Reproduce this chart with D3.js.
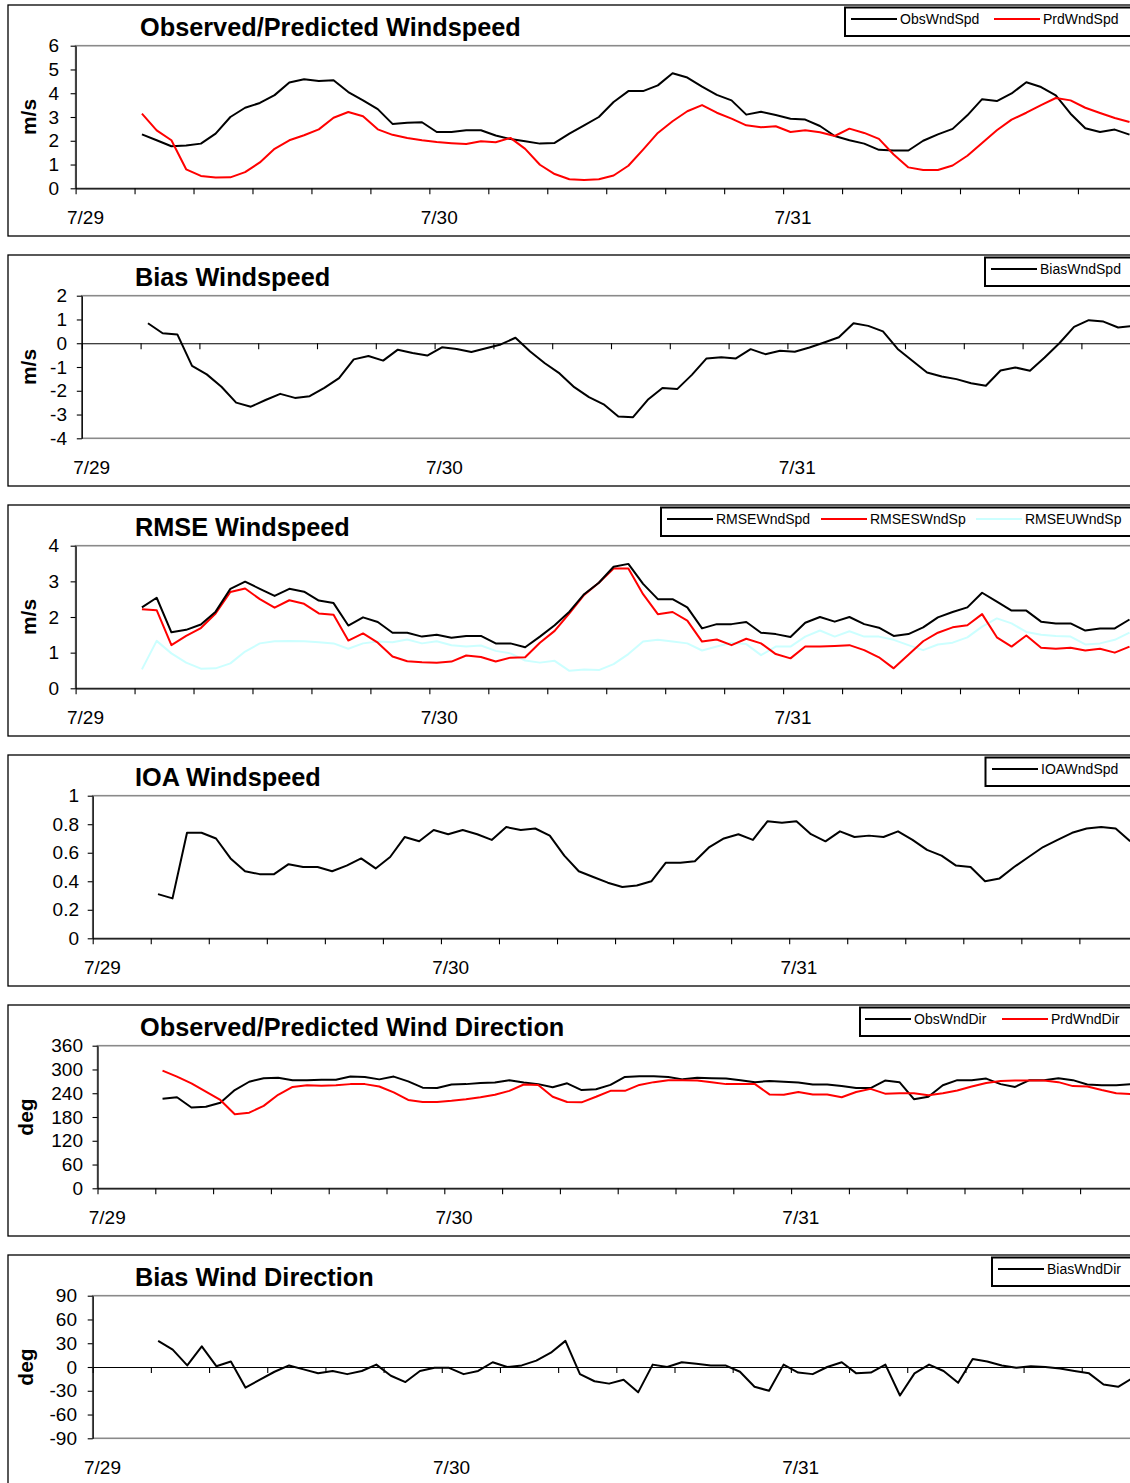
<!DOCTYPE html>
<html><head><meta charset="utf-8">
<script src="https://cdn.jsdelivr.net/npm/d3@7"></script>
<style>
body{margin:0;background:#fff}
svg text{font-family:"Liberation Sans",Arial,Helvetica,sans-serif;fill:#000}
</style>
</head><body>
<svg id="c" width="1130" height="1483"></svg>
<script>
// ---------------- data (hourly categories, first value is hour index 4) ----------------
const START = 4;
const dayLabels = ["7/29","7/30","7/31"];

const obsWndSpd = [2.27,2.02,1.77,1.80,1.88,2.30,3.00,3.39,3.59,3.92,
  4.45,4.59,4.51,4.55,4.05,3.70,3.33,2.71,2.76,2.78,
  2.37,2.37,2.44,2.44,2.22,2.07,1.98,1.88,1.91,2.30,
  2.65,3.00,3.63,4.09,4.09,4.33,4.84,4.66,4.28,3.93,
  3.70,3.10,3.22,3.08,2.93,2.89,2.62,2.20,2.02,1.88,
  1.62,1.59,1.59,2.00,2.27,2.50,3.07,3.75,3.67,3.99,
  4.46,4.26,3.91,3.14,2.53,2.37,2.47,2.26];
const prdWndSpd = [3.14,2.44,2.02,0.80,0.52,0.45,0.46,0.68,1.09,1.66,
  2.02,2.23,2.48,2.97,3.21,3.03,2.48,2.25,2.12,2.02,
  1.95,1.90,1.86,1.98,1.94,2.12,1.66,0.99,0.60,0.38,
  0.35,0.38,0.54,0.95,1.63,2.33,2.82,3.24,3.50,3.18,
  2.93,2.65,2.57,2.61,2.37,2.44,2.36,2.20,2.51,2.33,
  2.08,1.42,0.88,0.77,0.77,0.96,1.37,1.91,2.44,2.89,
  3.18,3.50,3.80,3.70,3.39,3.17,2.96,2.79];
const biasWndSpd = [0.84,0.42,0.37,-0.95,-1.31,-1.83,-2.50,-2.67,-2.39,-2.13,
  -2.30,-2.23,-1.88,-1.47,-0.68,-0.54,-0.73,-0.27,-0.41,-0.52,
  -0.17,-0.24,-0.37,-0.21,-0.05,0.23,-0.35,-0.84,-1.27,-1.85,
  -2.27,-2.57,-3.08,-3.11,-2.38,-1.88,-1.93,-1.33,-0.64,-0.59,
  -0.64,-0.25,-0.46,-0.32,-0.36,-0.18,0.03,0.25,0.84,0.73,
  0.50,-0.24,-0.74,-1.23,-1.40,-1.51,-1.68,-1.79,-1.15,-1.02,
  -1.16,-0.60,0.00,0.69,0.97,0.91,0.66,0.73];
const rmseWndSpd = [2.27,2.54,1.57,1.64,1.79,2.15,2.79,2.99,2.79,2.59,
  2.79,2.71,2.46,2.39,1.76,1.99,1.86,1.56,1.56,1.45,
  1.50,1.42,1.47,1.47,1.26,1.26,1.15,1.45,1.77,2.15,
  2.64,2.96,3.41,3.49,2.93,2.50,2.50,2.27,1.68,1.80,
  1.80,1.86,1.56,1.52,1.44,1.84,2.00,1.87,2.00,1.80,
  1.70,1.47,1.52,1.71,1.99,2.14,2.27,2.68,2.43,2.18,
  2.18,1.87,1.82,1.82,1.62,1.68,1.68,1.93];
const rmseSWndSp = [2.22,2.19,1.21,1.47,1.69,2.10,2.70,2.80,2.50,2.26,
  2.47,2.37,2.10,2.06,1.34,1.54,1.28,0.89,0.76,0.73,
  0.72,0.75,0.92,0.88,0.75,0.86,0.87,1.28,1.61,2.10,
  2.62,2.96,3.36,3.36,2.64,2.08,2.14,1.90,1.31,1.37,
  1.21,1.39,1.26,0.96,0.84,1.17,1.17,1.19,1.21,1.07,
  0.87,0.56,0.94,1.32,1.56,1.71,1.77,2.08,1.43,1.17,
  1.48,1.14,1.11,1.14,1.06,1.11,1.00,1.17];
const rmseUWndSp = [0.53,1.33,0.98,0.72,0.55,0.56,0.70,1.03,1.26,1.32,
  1.33,1.32,1.29,1.26,1.11,1.26,1.31,1.29,1.37,1.26,
  1.32,1.21,1.17,1.20,1.05,0.98,0.78,0.72,0.77,0.49,
  0.53,0.51,0.68,0.96,1.31,1.36,1.31,1.26,1.06,1.17,
  1.28,1.24,0.93,1.17,1.17,1.45,1.62,1.45,1.60,1.45,
  1.45,1.36,1.21,1.07,1.23,1.28,1.43,1.73,1.96,1.82,
  1.58,1.50,1.47,1.45,1.23,1.26,1.36,1.56];
const ioaWndSpd = [0.31,0.28,0.74,0.74,0.70,0.56,0.47,0.45,0.45,0.52,
  0.50,0.50,0.47,0.51,0.56,0.49,0.57,0.71,0.68,0.76,
  0.73,0.76,0.73,0.69,0.78,0.76,0.77,0.72,0.58,0.47,
  0.43,0.39,0.36,0.37,0.40,0.53,0.53,0.54,0.64,0.70,
  0.73,0.69,0.82,0.81,0.82,0.73,0.68,0.75,0.71,0.72,
  0.71,0.75,0.69,0.62,0.58,0.51,0.50,0.40,0.42,0.50,
  0.57,0.64,0.69,0.74,0.77,0.78,0.77,0.68];
const obsWndDir = [226,230,204,206,216,248,269,278,279,273,
  273,274,274,282,281,275,282,270,254,253,
  262,263,266,267,273,267,263,255,265,248,
  250,261,281,283,283,281,275,279,278,277,
  273,268,271,269,267,262,262,258,253,253,
  272,268,225,231,260,273,273,277,263,256,
  273,273,278,273,262,260,260,263];
const prdWndDir = [297,282,265,244,223,187,191,208,236,256,
  260,259,260,263,263,257,242,223,218,218,
  221,225,230,236,246,262,261,231,218,217,
  231,246,246,261,268,273,273,272,268,263,
  263,263,237,236,243,237,237,230,243,251,
  239,240,240,235,240,247,257,266,271,272,
  272,272,268,258,257,248,240,238];
const biasWndDir = [33,22,2,26,1,7,-26,-16,-6,2,
  -3,-8,-5,-9,-5,3,-11,-19,-5,-1,
  -1,-9,-5,6,0,2,8,18,33,-9,
  -18,-21,-16,-32,3,0,6,4,2,2,
  -6,-25,-30,3,-7,-9,0,6,-8,-7,
  3,-36,-8,3,-5,-20,10,7,2,-1,
  1,0,-2,-5,-8,-22,-25,-14];

const ticksWS = [0,1,2,3,4,5,6];
const ticksBias = [-4,-3,-2,-1,0,1,2];
const ticksRMSE = [0,1,2,3,4];
const ticksIOA = [0,0.2,0.4,0.6,0.8,1];
const ticksDir = [0,60,120,180,240,300,360];
const ticksBiasDir = [-90,-60,-30,0,30,60,90];

// ---------------- layout ----------------
const BLACK = "#000000", RED = "#ff0000", CYAN = "#ccffff";
const panels = [
  {top:0, left:75.6, hw:14.74, dom:[0,6], ticks:ticksWS, labR:59, ytitle:"m/s",
   title:"Observed/Predicted Windspeed", tx:140, zero:false, box:845,
   series:[{name:"ObsWndSpd",v:obsWndSpd,c:BLACK,lx:851},{name:"PrdWndSpd",v:prdWndSpd,c:RED,lx:994}]},
  {top:250, left:81.8, hw:14.70, dom:[-4,2], ticks:ticksBias, labR:67, ytitle:"m/s",
   title:"Bias Windspeed", tx:135, zero:true, box:985,
   series:[{name:"BiasWndSpd",v:biasWndSpd,c:BLACK,lx:991}]},
  {top:500, left:75.6, hw:14.74, dom:[0,4], ticks:ticksRMSE, labR:59, ytitle:"m/s",
   title:"RMSE Windspeed", tx:135, zero:false, box:661,
   series:[{name:"RMSEUWndSp",v:rmseUWndSp,c:CYAN,lx:976},{name:"RMSESWndSp",v:rmseSWndSp,c:RED,lx:821},{name:"RMSEWndSpd",v:rmseWndSpd,c:BLACK,lx:667}]},
  {top:750, left:92.7, hw:14.51, dom:[0,1], ticks:ticksIOA, labR:79, ytitle:null,
   title:"IOA Windspeed", tx:135, zero:false, box:985.5,
   series:[{name:"IOAWndSpd",v:ioaWndSpd,c:BLACK,lx:992}]},
  {top:1000, left:97.5, hw:14.45, dom:[0,360], ticks:ticksDir, labR:83, ytitle:"deg",
   title:"Observed/Predicted Wind Direction", tx:140, zero:false, box:860,
   series:[{name:"ObsWndDir",v:obsWndDir,c:BLACK,lx:865},{name:"PrdWndDir",v:prdWndDir,c:RED,lx:1002}]},
  {top:1250, left:92.7, hw:14.545, dom:[-90,90], ticks:ticksBiasDir, labR:77, ytitle:"deg",
   title:"Bias Wind Direction", tx:135, zero:true, box:992,
   series:[{name:"BiasWndDir",v:biasWndDir,c:BLACK,lx:998}]}
];

const svg = d3.select("#c");
const PT = 45.7, PB = 188.3;

panels.forEach(p => {
  const g = svg.append("g").attr("transform", `translate(0,${p.top})`);
  g.append("rect").attr("x",8).attr("y",5).attr("width",1140).attr("height",231)
    .attr("fill","#fff").attr("stroke","#000").attr("stroke-width",1.3);

  const W = 96*p.hw;
  const x = d3.scaleLinear().domain([0,96]).range([p.left, p.left+W]);
  const y = d3.scaleLinear().domain(p.dom).range([PB, PT]);

  // plot area border
  g.append("rect").attr("x",p.left).attr("y",PT).attr("width",W).attr("height",PB-PT)
    .attr("fill","none").attr("stroke","#8a8a8a").attr("stroke-width",1.6);

  // title
  g.append("text").attr("x",p.tx).attr("y",35.5).attr("font-size",25.3).attr("font-weight","bold").text(p.title);

  // y axis
  const ya = g.append("g").attr("transform",`translate(${p.left},0)`)
    .call(d3.axisLeft(y).tickValues(p.ticks).tickSize(5).tickSizeOuter(0)
      .tickPadding(p.left - p.labR - 5).tickFormat(d=>String(d)));
  ya.select(".domain").attr("stroke","#000").attr("stroke-width",1.2);
  ya.selectAll(".tick line").attr("stroke","#000").attr("stroke-width",1.1);
  ya.selectAll(".tick text").attr("font-size",19).attr("font-family",null).attr("fill","#000");

  // x axis (category axis, tick marks every 4 hours)
  const xa = g.append("g").attr("transform",`translate(0,${p.zero ? y(0) : PB})`)
    .call(d3.axisBottom(x).tickValues(d3.range(0,97,4)).tickSize(6).tickSizeOuter(0).tickFormat(""));
  xa.select(".domain").attr("stroke","#000").attr("stroke-width",1.2);
  xa.selectAll(".tick line").attr("stroke","#000").attr("stroke-width",1.1);

  // day labels
  g.selectAll(".day").data(dayLabels).enter().append("text")
    .attr("x",(d,i)=>x(i*24+0.5)+2.5).attr("y",224).attr("text-anchor","middle")
    .attr("font-size",19).text(d=>d);

  // y title
  if (p.ytitle) {
    g.append("text").attr("transform",`translate(${p.ytitle==="deg"?33:36},${(PT+PB)/2}) rotate(-90)`)
      .attr("text-anchor","middle").attr("font-size",21).attr("font-weight","bold").text(p.ytitle);
  }

  // series
  const line = d3.line().x((d,i)=>x(START+i+0.5)).y(d=>y(d));
  p.series.forEach(s => {
    g.append("path").datum(s.v).attr("d",line).attr("fill","none")
      .attr("stroke",s.c).attr("stroke-width",2).attr("stroke-linejoin","round");
  });

  // legend
  g.append("rect").attr("x",p.box).attr("y",7.5).attr("width",1140-p.box).attr("height",28.5)
    .attr("fill","#fff").attr("stroke","#000").attr("stroke-width",2);
  p.series.forEach(s => {
    g.append("line").attr("x1",s.lx).attr("x2",s.lx+46).attr("y1",19).attr("y2",19)
      .attr("stroke",s.c).attr("stroke-width",2);
    g.append("text").attr("x",s.lx+49).attr("y",24).attr("font-size",14).text(s.name);
  });
});
</script>
</body></html>
